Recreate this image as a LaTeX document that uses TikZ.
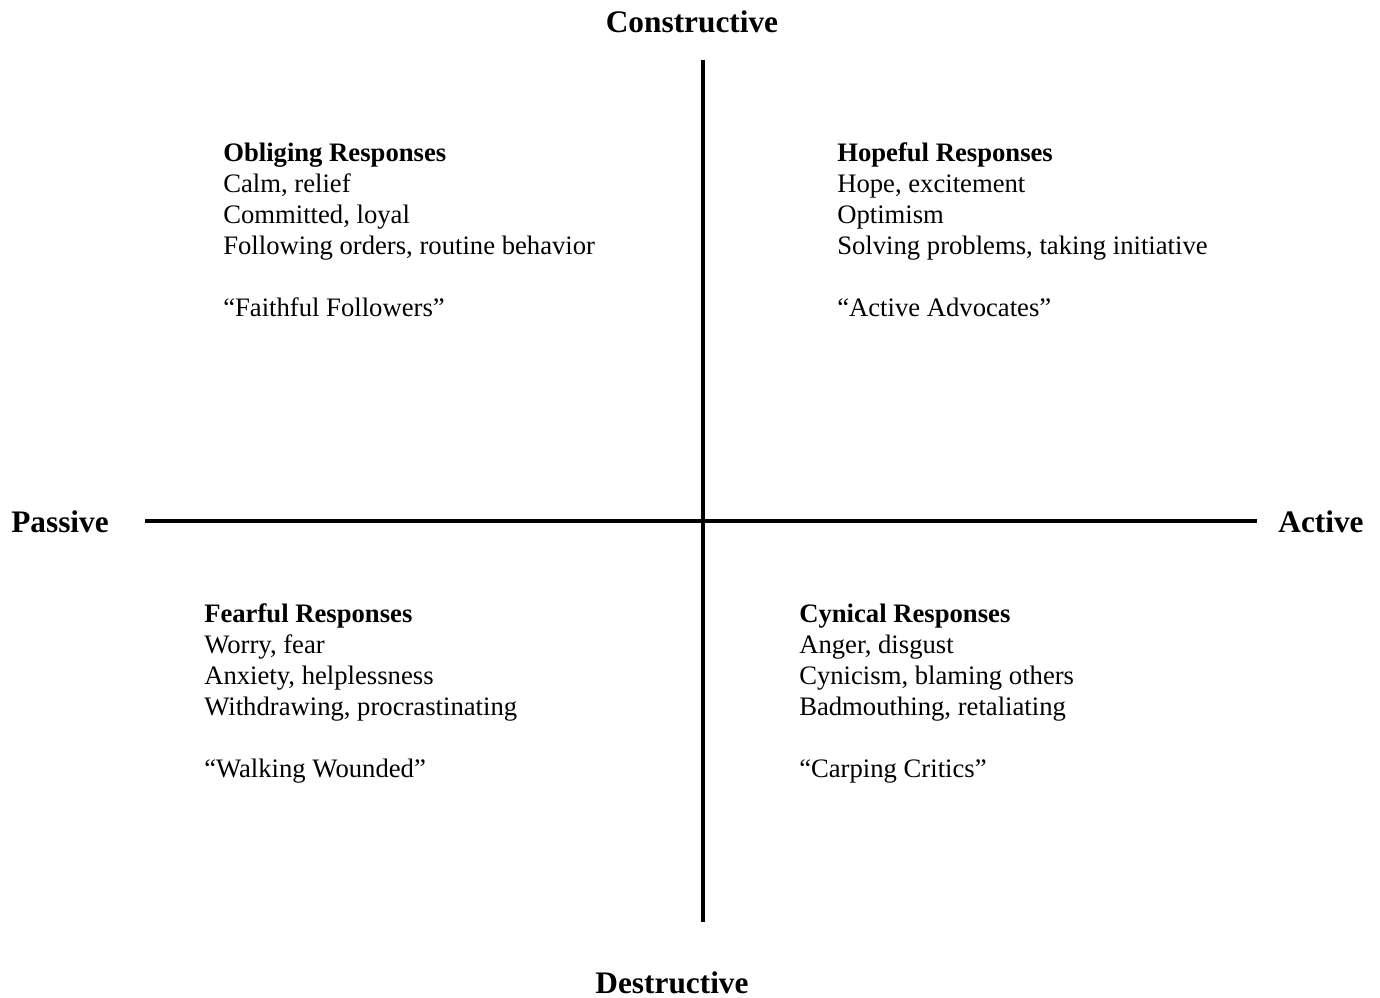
\documentclass[tikz,border=0pt]{standalone}
\usepackage{fontspec}
\setmainfont{Liberation Serif}
\usetikzlibrary{positioning}
\tikzstyle{Axis} = [font=\fontsize{23.5}{28}\selectfont\bfseries, inner sep=0pt]
\tikzstyle{Quad} = [font=\fontsize{20}{23.2}\selectfont, align=left, anchor=base west, inner sep=0pt]
\tikzstyle{Line} = [line width=3pt]

\begin{document}
\begin{tikzpicture}[x=0.75pt,y=-0.75pt]
    \useasboundingbox (0,0) rectangle (1380,998);
    \node[Axis] (constructive) at (692,22)  {Constructive};
    \node[Axis] (destructive)  at (672,983) {Destructive};
    \node[Axis] (passive)      at (60,522)  {Passive};
    \node[Axis] (active)       at (1321,522) {Active};
    \coordinate (c_top)    at (703,60);
    \coordinate (c_bottom) at (703,922);
    \coordinate (c_left)   at (145,521);
    \coordinate (c_right)  at (1257,521);
    \draw[Line] (c_top)  -- (c_bottom);
    \draw[Line] (c_left) -- (c_right);
    % base anchor sits on the last line
    \node[Quad] (obliging) at (223,316) {\textbf{Obliging Responses}\\Calm, relief\\Committed, loyal\\Following orders, routine behavior\\ \\``Faithful Followers''};
    \node[Quad] (hopeful)  at (837,316) {\textbf{Hopeful Responses}\\Hope, excitement\\Optimism\\Solving problems, taking initiative\\ \\``Active Advocates''};
    \node[Quad] (fearful)  at (204,777) {\textbf{Fearful Responses}\\Worry, fear\\Anxiety, helplessness\\Withdrawing, procrastinating\\ \\``Walking Wounded''};
    \node[Quad] (cynical)  at (799,777) {\textbf{Cynical Responses}\\Anger, disgust\\Cynicism, blaming others\\Badmouthing, retaliating\\ \\``Carping Critics''};
  \end{tikzpicture}
\end{document}
